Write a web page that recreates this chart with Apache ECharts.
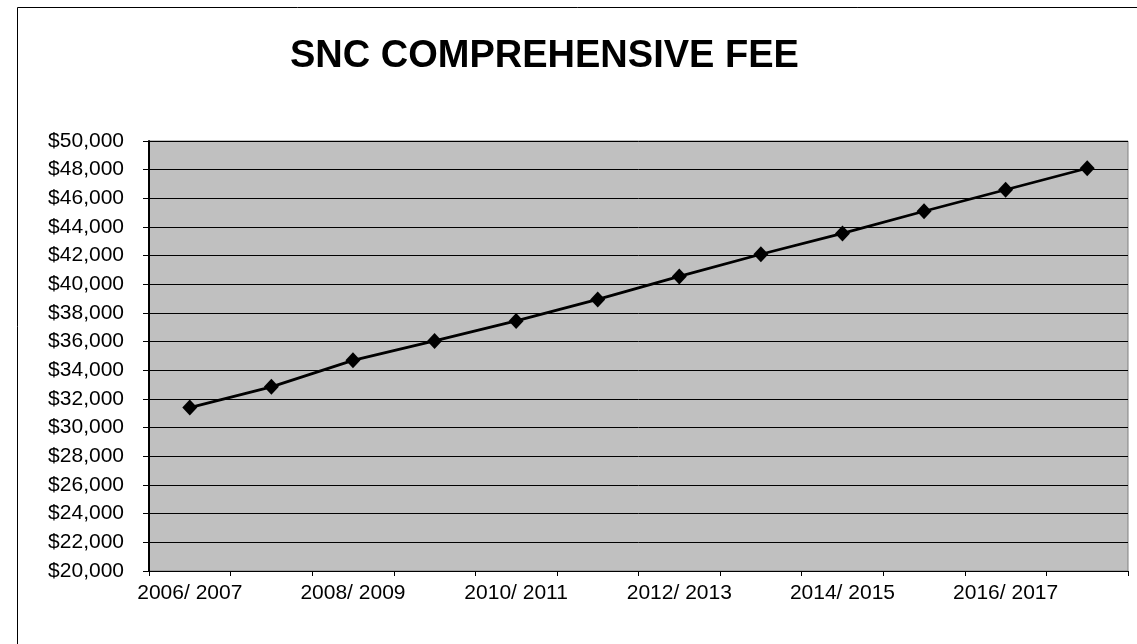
<!DOCTYPE html>
<html>
<head>
<meta charset="utf-8">
<script src="https://cdn.jsdelivr.net/npm/echarts@6/dist/echarts.min.js"></script>
<style>
html,body{margin:0;padding:0;background:#fff;}
#chart{width:1137px;height:644px;}
</style>
</head>
<body>
<div id="chart"></div>
<script>
var categories = ['2006/ 2007','2007/ 2008','2008/ 2009','2009/ 2010','2010/ 2011','2011/ 2012','2012/ 2013','2013/ 2014','2014/ 2015','2015/ 2016','2016/ 2017','2017/ 2018'];
var feeValues = [31400, 32850, 34700, 36050, 37450, 38950, 40550, 42100, 43550, 45100, 46600, 48100];
var yMin = 20000, yMax = 50000, yStep = 2000;
var titleText = 'SNC COMPREHENSIVE FEE';

var chart = echarts.init(document.getElementById('chart'), null, {renderer:'canvas'});
var FONT = 'Liberation Sans, Arial, sans-serif';
chart.setOption({
  animation:false,
  backgroundColor:'#ffffff',
  title:{
    text:titleText,
    left:285, top:33,
    textStyle:{fontFamily:FONT, fontSize:38, fontWeight:'bold', color:'#000'}
  },
  graphic:[{
    type:'rect', silent:true, z:-1,
    shape:{x:17.5, y:7.5, width:1200, height:700},
    style:{fill:null, stroke:'#000', lineWidth:1}
  }],
  grid:{left:149, right:9, top:141, bottom:73, show:true, backgroundColor:'#c0c0c0', borderColor:'#808080', borderWidth:1},
  xAxis:{
    type:'category', data:categories, boundaryGap:true,
    axisLine:{lineStyle:{color:'#000', width:1}},
    axisTick:{show:true, interval:0, length:5, lineStyle:{color:'#000'}},
    axisLabel:{interval:1, margin:12, fontFamily:FONT, fontSize:21, color:'#000'},
    splitLine:{show:false}
  },
  yAxis:{
    type:'value', min:yMin, max:yMax, interval:yStep,
    axisLine:{show:true, lineStyle:{color:'#000', width:2}},
    axisTick:{show:true, length:6, lineStyle:{color:'#000'}},
    axisLabel:{margin:25, fontFamily:FONT, fontSize:21, color:'#000',
      formatter:function(v){return '$'+v.toLocaleString('en-US');}},
    splitLine:{show:true, lineStyle:{color:'#000', width:1}}
  },
  series:[{
    type:'line', data:feeValues,
    symbol:'diamond', symbolSize:[15,16],
    lineStyle:{color:'#000', width:2.8},
    itemStyle:{color:'#000'}
  }]
});
</script>
</body>
</html>
